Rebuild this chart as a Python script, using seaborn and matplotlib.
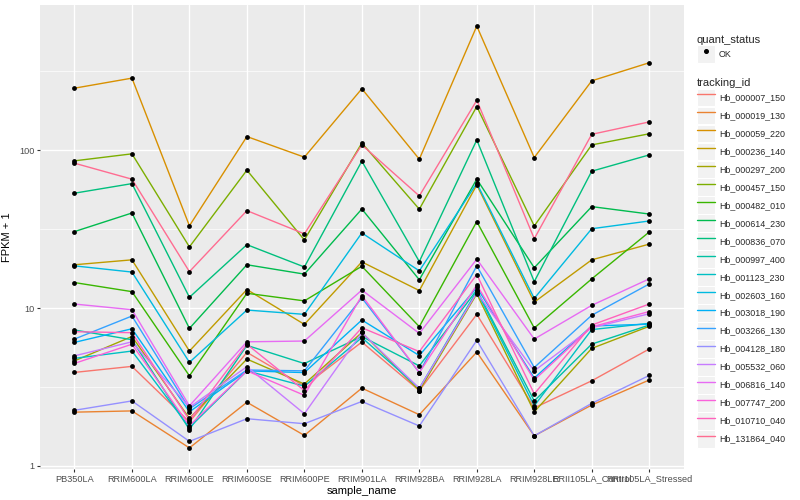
import numpy as np
import pandas as pd
import seaborn as sns
import matplotlib.pyplot as plt
from matplotlib.lines import Line2D
from matplotlib.patches import Rectangle
from matplotlib.legend_handler import HandlerTuple

# --- data (FPKM + 1) ---
samples = ['PB350LA', 'RRIM600LA', 'RRIM600LE', 'RRIM600SE', 'RRIM600PE', 'RRIM901LA',
           'RRIM928BA', 'RRIM928LA', 'RRIM928LE', 'RRII105LA_Control', 'RRII105LA_Stressed']

tracking_ids = ['Hb_000007_150', 'Hb_000019_130', 'Hb_000059_220', 'Hb_000236_140',
                'Hb_000297_200', 'Hb_000457_150', 'Hb_000482_010', 'Hb_000614_230',
                'Hb_000836_070', 'Hb_000997_400', 'Hb_001123_230', 'Hb_002603_160',
                'Hb_003018_190', 'Hb_003266_130', 'Hb_004128_180', 'Hb_005532_060',
                'Hb_006816_140', 'Hb_007747_200', 'Hb_010710_040', 'Hb_131864_040']

hb_000007_150 = [3.91, 4.27, 1.90, 5.24, 3.20, 6.09, 3.00, 9.12, 2.33, 3.46, 5.50]
hb_000019_130 = [2.19, 2.23, 1.30, 2.53, 1.56, 3.11, 2.11, 5.26, 1.55, 2.43, 3.50]
hb_000059_220 = [247, 286, 33.2, 122, 90.3, 245, 87.7, 611, 89.8, 275, 358]
hb_000236_140 = [18.8, 20.2, 5.34, 13.1, 7.88, 19.6, 12.9, 60.3, 10.9, 20.2, 25.4]
hb_000297_200 = [4.63, 6.60, 2.00, 4.75, 3.30, 7.00, 3.00, 12.3, 2.20, 5.55, 7.66]
hb_000457_150 = [85.6, 94.8, 24.4, 74.7, 27.0, 111, 42.3, 189, 33.1, 108, 127]
hb_000482_010 = [14.5, 12.7, 3.72, 12.4, 11.1, 18.4, 7.62, 35.3, 7.47, 15.3, 30.3]
hb_000614_230 = [30.5, 40.0, 7.43, 18.8, 16.4, 42.4, 15.1, 65.5, 18.0, 43.9, 39.4]
hb_000836_070 = [53.4, 61.4, 11.7, 25.2, 18.2, 85.2, 19.7, 116, 14.7, 73.6, 93.3]
hb_000997_400 = [7.26, 6.30, 1.70, 5.80, 4.45, 6.60, 4.30, 13.0, 2.58, 5.91, 7.80]
hb_001123_230 = [4.80, 5.34, 1.75, 4.00, 3.20, 6.50, 3.10, 12.8, 2.40, 7.30, 8.00]
hb_002603_160 = [18.5, 16.9, 4.53, 9.71, 9.12, 29.9, 17.2, 61.8, 11.5, 31.8, 35.6]
hb_003018_190 = [6.06, 7.39, 2.20, 4.00, 3.90, 8.40, 5.00, 13.5, 3.60, 7.70, 7.90]
hb_003266_130 = [6.36, 8.90, 2.30, 4.05, 4.00, 11.6, 3.90, 18.5, 4.20, 9.00, 14.2]
hb_004128_180 = [2.25, 2.58, 1.43, 1.99, 1.85, 2.56, 1.79, 6.24, 1.55, 2.49, 3.74]
hb_005532_060 = [4.98, 6.11, 2.35, 4.25, 2.14, 7.00, 3.10, 12.5, 4.00, 7.50, 9.20]
hb_006816_140 = [10.6, 9.76, 2.40, 6.11, 6.18, 13.0, 6.91, 20.4, 6.36, 10.4, 15.3]
hb_007747_200 = [4.46, 5.90, 1.80, 4.00, 2.80, 12.0, 3.90, 14.0, 3.50, 7.60, 9.50]
hb_010710_040 = [7.08, 6.98, 1.95, 5.90, 3.00, 7.50, 5.30, 16.3, 2.86, 7.80, 10.6]
hb_131864_040 = [82.7, 65.5, 17.0, 41.4, 29.5, 108, 51.3, 207, 27.5, 126, 151]

series = [hb_000007_150, hb_000019_130, hb_000059_220, hb_000236_140, hb_000297_200,
          hb_000457_150, hb_000482_010, hb_000614_230, hb_000836_070, hb_000997_400,
          hb_001123_230, hb_002603_160, hb_003018_190, hb_003266_130, hb_004128_180,
          hb_005532_060, hb_006816_140, hb_007747_200, hb_010710_040, hb_131864_040]

# ggplot default hue palette for 20 levels
cores = ['#F8766D', '#EA8331', '#D89000', '#C09B00', '#A3A500', '#7CAE00', '#39B600',
         '#00BB4E', '#00BF7D', '#00C1A3', '#00BFC4', '#00BAE0', '#00B0F6', '#35A2FF',
         '#9590FF', '#C77CFF', '#E76BF3', '#FA62DB', '#FF62BC', '#FF6C91']

linhas = []
for tid, vals in zip(tracking_ids, series):
    for s, v in zip(samples, vals):
        linhas.append({'tracking_id': tid, 'sample_name': s, 'fpkm': v, 'quant_status': 'OK'})
df = pd.DataFrame(linhas)
df['pos'] = df['sample_name'].map({s: i for i, s in enumerate(samples)})

# --- estilo tipo ggplot ---
sns.set_theme(style="darkgrid", rc={
    "axes.facecolor": "#EBEBEB",
    "figure.facecolor": "white",
    "grid.color": "white",
    "axes.edgecolor": "#EBEBEB",
})
plt.rcParams['font.family'] = ['Liberation Sans', 'DejaVu Sans']

fig = plt.figure(figsize=(8, 5), dpi=100)
ax = fig.add_axes([0.05, 0.062, 0.8046, 0.928])

sns.lineplot(data=df, x='pos', y='fpkm', hue='tracking_id', hue_order=tracking_ids,
             palette=cores, estimator=None, sort=False, linewidth=1.0, legend=False, ax=ax)
sns.scatterplot(data=df, x='pos', y='fpkm', color='black', s=12, linewidth=0,
                legend=False, ax=ax, zorder=5)

ax.set_yscale('log')
lo, hi = np.log10(df['fpkm'].min()), np.log10(df['fpkm'].max())
pad = 0.05 * (hi - lo)
ax.set_ylim(10 ** (lo - pad), 10 ** (hi + pad))
ax.set_xlim(-0.6, len(samples) - 0.4)

ax.set_yticks([1, 10, 100])
ax.set_yticklabels(['1', '10', '100'])
ax.set_yticks([10 ** 0.5, 10 ** 1.5, 10 ** 2.5], minor=True)
ax.set_xticks(range(len(samples)))
ax.set_xticklabels(samples)
ax.grid(True, which='major', color='white', linewidth=1.0)
ax.grid(True, which='minor', color='white', linewidth=0.5)
ax.tick_params(axis='both', which='major', labelsize=6.6, labelcolor='#4D4D4D',
               length=2.5, width=0.8, color='#333333', pad=1.5, left=True, bottom=True)
ax.tick_params(axis='both', which='minor', length=0)
for sp in ax.spines.values():
    sp.set_visible(False)

ax.set_xlabel('sample_name', fontsize=8, color='black', labelpad=2)
ax.set_ylabel('FPKM + 1', fontsize=8, color='black', labelpad=5)

# --- legendas ---
def chave(**kw):
    return (Rectangle((0, 0), 1, 1, facecolor='#F2F2F2', edgecolor='white', linewidth=0.8),
            Line2D([], [], **kw))

opts = dict(loc='upper left', frameon=False, fontsize=6.4, title_fontsize=8,
            handlelength=2.0, handleheight=2.7, handletextpad=0.5, labelspacing=0.02,
            borderaxespad=0, borderpad=0,
            handler_map={tuple: HandlerTuple(ndivide=1, pad=0)})

leg1 = fig.legend([chave(marker='o', color='black', markersize=2.6, linestyle='none')], ['OK'],
                  title='quant_status', bbox_to_anchor=(0.871, 0.93), **opts)
leg1._legend_box.align = 'left'

handles = [chave(color=c, linewidth=1.0) for c in cores]
leg2 = fig.legend(handles, tracking_ids, title='tracking_id',
                  bbox_to_anchor=(0.871, 0.843), **opts)
leg2._legend_box.align = 'left'

fig.savefig('out.png', dpi=100)
